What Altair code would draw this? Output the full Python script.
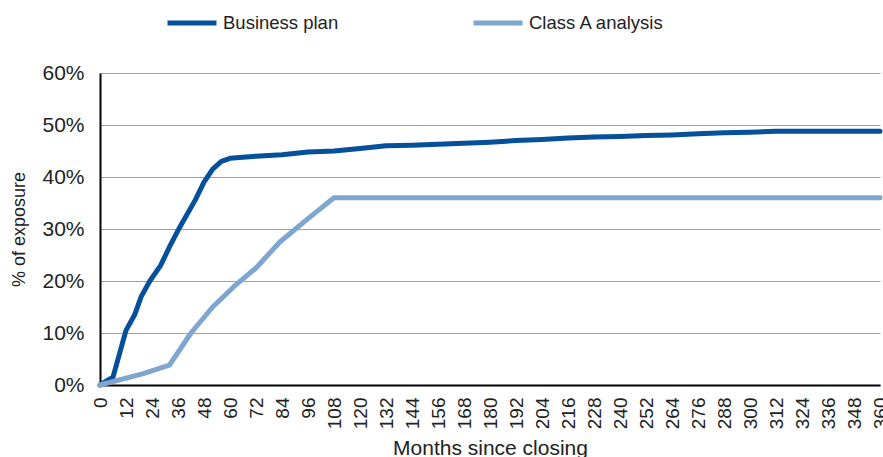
import altair as alt
import pandas as pd

# Cumulative exposure curves (fraction of exposure) by months since closing
bp_months = [0, 6, 12, 16, 19, 23, 28, 32, 37, 44, 48, 52, 56, 60, 66, 72, 84, 96, 108,
             120, 132, 144, 156, 168, 180, 192, 204, 216, 228, 240, 252, 264, 276, 288,
             300, 312, 324, 336, 348, 360]
bp_values = [0.0, 0.015, 0.105, 0.135, 0.17, 0.20, 0.23, 0.265, 0.305, 0.356, 0.39, 0.415,
             0.43, 0.436, 0.438, 0.44, 0.443, 0.448, 0.45, 0.455, 0.46, 0.461, 0.463, 0.465,
             0.467, 0.47, 0.472, 0.475, 0.477, 0.478, 0.48, 0.481, 0.483, 0.485, 0.486,
             0.488, 0.488, 0.488, 0.488, 0.488]

ca_months = [0, 20, 32, 42, 52, 62, 72, 83, 96, 108, 120, 180, 240, 300, 360]
ca_values = [0.0, 0.022, 0.038, 0.10, 0.15, 0.19, 0.225, 0.275, 0.32, 0.36, 0.36, 0.36,
             0.36, 0.36, 0.36]

series_names = ["Business plan", "Class A analysis"]
series_colors = ["#05509A", "#7EA6CE"]
x_ticks = list(range(0, 361, 12))
y_ticks = [0, 0.1, 0.2, 0.3, 0.4, 0.5, 0.6]

df = pd.concat([
    pd.DataFrame({"month": bp_months, "value": bp_values, "series": series_names[0]}),
    pd.DataFrame({"month": ca_months, "value": ca_values, "series": series_names[1]}),
])

FONT = "Liberation Sans"

chart = alt.Chart(df).mark_line(strokeWidth=5, strokeCap="round", strokeJoin="round").encode(
    x=alt.X("month:Q",
            scale=alt.Scale(domain=[0, 360], nice=False, zero=True),
            axis=alt.Axis(title="Months since closing", values=x_ticks, labelAngle=270,
                          labelAlign="right", labelBaseline="middle",
                          labelFontSize=19, labelPadding=12, ticks=False,
                          grid=False, domainColor="#000000", domainWidth=2,
                          titleFontSize=21, titleFontWeight="normal", titlePadding=9,
                          labelOverlap=False, labelFlush=False)),
    y=alt.Y("value:Q",
            scale=alt.Scale(domain=[0, 0.6], nice=False),
            axis=alt.Axis(title="% of exposure", values=y_ticks, format=".0%",
                          labelFontSize=21, labelPadding=16, ticks=False,
                          grid=True, gridColor="#A0A0A0", gridWidth=1,
                          domainColor="#000000", domainWidth=2,
                          titleFontSize=18, titleFontWeight="normal", titlePadding=13)),
    color=alt.Color("series:N",
                    scale=alt.Scale(domain=series_names, range=series_colors),
                    legend=alt.Legend(title=None, orient="none", direction="horizontal",
                                      legendX=65, legendY=-77,
                                      symbolType="stroke", symbolSize=2400,
                                      symbolStrokeWidth=5, labelFontSize=18.5,
                                      labelOffset=4, columnPadding=124, padding=0)),
).properties(
    width=780, height=312,
    autosize=alt.AutoSizeParams(type="none"),
    padding={"left": 100, "top": 73, "right": 3, "bottom": 72},
).configure(
    font=FONT,
).configure_axis(
    labelColor="#222222", titleColor="#222222", labelFont=FONT, titleFont=FONT,
).configure_legend(
    labelColor="#222222", labelFont=FONT,
).configure_view(
    strokeWidth=0,
)

chart.save("out.html", embed_options={"renderer": "svg", "actions": False})
